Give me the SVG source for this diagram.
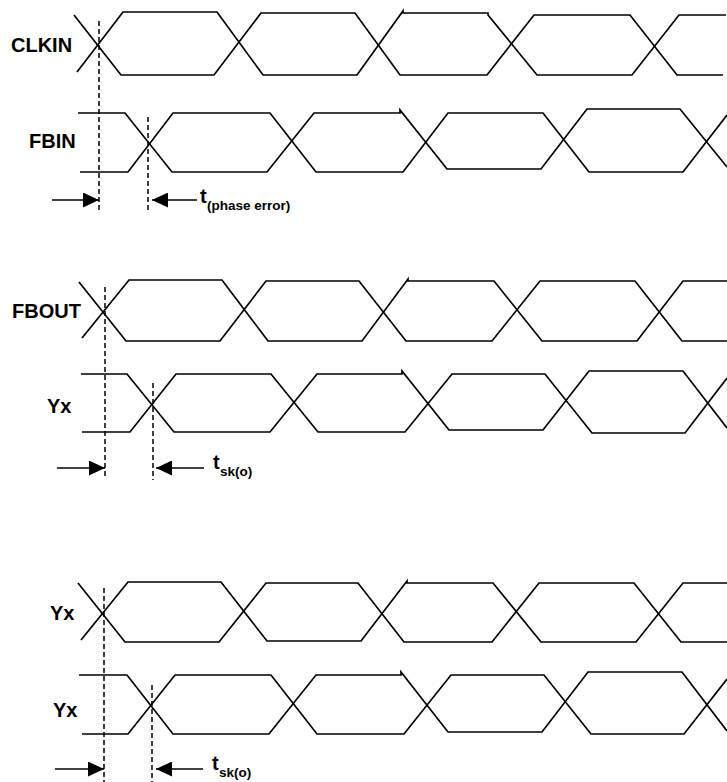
<svg xmlns="http://www.w3.org/2000/svg" width="727" height="782" viewBox="0 0 727 782">
<style>
.w{fill:none;stroke:#000;stroke-width:1.7;stroke-linejoin:miter}
.d{fill:none;stroke:#000;stroke-width:1.5;stroke-dasharray:5,3}
.a{fill:none;stroke:#000;stroke-width:1.7}
.lb{font-family:"Liberation Sans",Arial,sans-serif;font-weight:bold;font-size:20px;fill:#000}
.sb{font-family:"Liberation Sans",Arial,sans-serif;font-weight:bold;font-size:13.5px;fill:#000}
</style>
<defs>
<marker id="ah" markerUnits="userSpaceOnUse" markerWidth="16" markerHeight="15" refX="16" refY="7.5" orient="auto">
<path d="M0,0 L16,7.5 L0,15 Z" fill="#000"/>
</marker>
</defs>
<rect width="727" height="782" fill="#fff"/>

<g id="clkin">
<polyline class="w" points="74,15 121,75 214,75 261,13 355,13 400,75 487,75 534,15 630,15 677,75 723,75"/>
<polyline class="w" points="77,72 123,12 217,12 263,75 357,75 403,11 403,13 488,13 488,15 537,75 632,75 679,15 726,15"/>
<text class="lb" x="11" y="52">CLKIN</text>
</g>

<g id="fbin">
<polyline class="w" points="78,113 125,113 172,172 267,172 314,113 400,113 400,110 447,169 541,169 587,109 680,109 727,167"/>
<polyline class="w" points="80,172 128,172 173,113 270,113 316,172 403,172 448,113 543,113 589,172 683,172 727,115"/>
<text class="lb" x="29" y="148">FBIN</text>
</g>

<g id="fbout">
<polyline class="w" points="79,282 126,341 220,341 266,281 359,281 406,341 492,341 540,281 635,281 682,341 727,341"/>
<polyline class="w" points="82,338 129,280 222,280 268,341 362,341 408,279 408,281 494,281 542,341 637,341 683,281 727,281"/>
<text class="lb" x="12" y="318">FBOUT</text>
</g>

<g id="yx1">
<polyline class="w" points="81,374 127,374 174,432 270,432 317,374 402,374 402,371 449,430 543,430 589,371 683,371 727,428"/>
<polyline class="w" points="82,432 130,432 176,374 271,374 318,432 405,432 452,374 545,374 592,433 685,433 727,378"/>
<text class="lb" x="47" y="413">Yx</text>
</g>

<g id="yx2">
<polyline class="w" points="78,583 125,642 219,642 266,583 358,583 404,642 492,642 539,583 634,583 681,642 727,642"/>
<polyline class="w" points="81,640 128,582 221,582 267,641 361,641 407,581 407,583 493,583 541,642 636,642 683,583 727,583"/>
<text class="lb" x="50" y="620">Yx</text>
</g>

<g id="yx3">
<polyline class="w" points="79,675 127,675 173,734 269,734 316,675 401,675 401,672 448,732 542,732 588,672 682,672 727,731"/>
<polyline class="w" points="82,734 128,734 175,675 271,675 317,734 404,734 451,675 544,675 591,734 684,734 727,679"/>
<text class="lb" x="53" y="717">Yx</text>
</g>

<g id="connectors">
<line class="d" x1="99" y1="21" x2="99" y2="210"/>
<line class="d" x1="148" y1="117" x2="148" y2="213"/>
<line class="a" x1="52" y1="200" x2="99" y2="200" marker-end="url(#ah)"/>
<line class="a" x1="197" y1="200" x2="152" y2="200" marker-end="url(#ah)"/>

<line class="d" x1="105" y1="287" x2="105" y2="477"/>
<line class="d" x1="153" y1="383" x2="153" y2="480"/>
<line class="a" x1="57" y1="468" x2="105" y2="468" marker-end="url(#ah)"/>
<line class="a" x1="204" y1="468" x2="156" y2="468" marker-end="url(#ah)"/>

<line class="d" x1="104" y1="588" x2="104" y2="782"/>
<line class="d" x1="152" y1="685" x2="152" y2="782"/>
<line class="a" x1="55" y1="769" x2="104" y2="769" marker-end="url(#ah)"/>
<line class="a" x1="203" y1="769" x2="156" y2="769" marker-end="url(#ah)"/>
</g>

<g id="labels">
<text class="lb" x="200" y="203">t</text><text class="sb" x="207" y="210">(phase error)</text>
<text class="lb" x="213" y="469">t</text><text class="sb" x="220" y="476">sk(o)</text>
<text class="lb" x="212" y="770">t</text><text class="sb" x="219" y="777">sk(o)</text>
</g>
</svg>
